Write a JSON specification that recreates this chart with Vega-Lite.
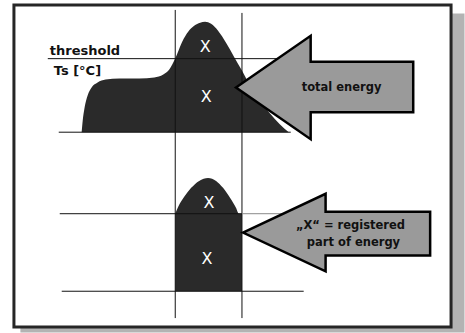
{
  "$schema": "https://vega.github.io/schema/vega-lite/v6.json",
  "width": 465,
  "height": 333,
  "autosize": {"type": "fit", "contains": "padding"},
  "padding": 0,
  "background": "white",
  "config": {"view": {"stroke": null}},
  "datasets": {
    "boxes": [
      {"part": "shadow", "x": 22, "x2": 465, "y": 15, "y2": 333},
      {"part": "frame", "x": 14, "x2": 453, "y": 5, "y2": 329}
    ],
    "shape1": [
      {"x": 82, "y": 133, "y2": 133},
      {"x": 83, "y": 122, "y2": 133},
      {"x": 85, "y": 108, "y2": 133},
      {"x": 88, "y": 96, "y2": 133},
      {"x": 92, "y": 88, "y2": 133},
      {"x": 98, "y": 83, "y2": 133},
      {"x": 106, "y": 80, "y2": 133},
      {"x": 120, "y": 79, "y2": 133},
      {"x": 140, "y": 79, "y2": 133},
      {"x": 155, "y": 78, "y2": 133},
      {"x": 164, "y": 75, "y2": 133},
      {"x": 170, "y": 70, "y2": 133},
      {"x": 174, "y": 63, "y2": 133},
      {"x": 178, "y": 54, "y2": 133},
      {"x": 183, "y": 42, "y2": 133},
      {"x": 189, "y": 32, "y2": 133},
      {"x": 195, "y": 26, "y2": 133},
      {"x": 201, "y": 23, "y2": 133},
      {"x": 206, "y": 22, "y2": 133},
      {"x": 212, "y": 24, "y2": 133},
      {"x": 219, "y": 31, "y2": 133},
      {"x": 227, "y": 43, "y2": 133},
      {"x": 235, "y": 57, "y2": 133},
      {"x": 243, "y": 71, "y2": 133},
      {"x": 251, "y": 86, "y2": 133},
      {"x": 261, "y": 101, "y2": 133},
      {"x": 271, "y": 114, "y2": 133},
      {"x": 281, "y": 125, "y2": 133},
      {"x": 290, "y": 133, "y2": 133}
    ],
    "shape2": [
      {"x": 176, "y": 215, "y2": 293},
      {"x": 179, "y": 208, "y2": 293},
      {"x": 185, "y": 198, "y2": 293},
      {"x": 192, "y": 189, "y2": 293},
      {"x": 200, "y": 182, "y2": 293},
      {"x": 209, "y": 179, "y2": 293},
      {"x": 217, "y": 182, "y2": 293},
      {"x": 224, "y": 189, "y2": 293},
      {"x": 231, "y": 199, "y2": 293},
      {"x": 237, "y": 209, "y2": 293},
      {"x": 240, "y": 215, "y2": 293},
      {"x": 243, "y": 215, "y2": 293}
    ],
    "arrow1": [
      {"x": 237, "y": 88, "y2": 88},
      {"x": 312, "y": 36, "y2": 140},
      {"x": 312.01, "y": 62, "y2": 113},
      {"x": 415, "y": 62, "y2": 113}
    ],
    "arrow2": [
      {"x": 244, "y": 234, "y2": 234},
      {"x": 327, "y": 195, "y2": 273},
      {"x": 327.01, "y": 213, "y2": 257},
      {"x": 432, "y": 213, "y2": 257}
    ],
    "rules": [
      {"c": "k", "x": 176, "x2": 176, "y": 10, "y2": 320},
      {"c": "k", "x": 243, "x2": 243, "y": 13, "y2": 320},
      {"c": "k", "x": 48, "x2": 292, "y": 59, "y2": 59},
      {"c": "k", "x": 59, "x2": 292, "y": 133, "y2": 133},
      {"c": "k", "x": 60, "x2": 243, "y": 215, "y2": 215},
      {"c": "g", "x": 243, "x2": 292, "y": 215, "y2": 215},
      {"c": "k", "x": 62, "x2": 305, "y": 293, "y2": 293}
    ],
    "darktext": [
      {"t": "threshold", "x": 50, "y": 55},
      {"t": "Ts [°C]", "x": 54, "y": 75}
    ],
    "centertext": [
      {"t": "total energy", "x": 343, "y": 92},
      {"t": "„X“ = registered", "x": 352, "y": 230},
      {"t": "part of energy", "x": 355, "y": 247}
    ],
    "xs": [
      {"t": "X", "x": 206, "y": 52},
      {"t": "X", "x": 207, "y": 103},
      {"t": "X", "x": 210, "y": 209},
      {"t": "X", "x": 208, "y": 266}
    ]
  },
  "layer": [
    {
      "data": {"name": "boxes"},
      "mark": {"type": "rect", "strokeWidth": 3},
      "encoding": {
        "x": {"field": "x", "type": "quantitative", "scale": {"domain": [0, 465], "nice": false, "zero": false}, "axis": null},
        "x2": {"field": "x2"},
        "y": {"field": "y", "type": "quantitative", "scale": {"domain": [0, 333], "nice": false, "zero": false, "reverse": true}, "axis": null},
        "y2": {"field": "y2"},
        "fill": {"field": "part", "type": "nominal", "scale": {"domain": ["shadow", "frame"], "range": ["#b3b3b3", "#ffffff"]}, "legend": null},
        "stroke": {"field": "part", "type": "nominal", "scale": {"domain": ["shadow", "frame"], "range": ["#b3b3b3", "#262626"]}, "legend": null},
        "order": {"field": "part", "sort": "descending"}
      }
    },
    {
      "data": {"name": "shape1"},
      "mark": {"type": "area", "color": "#2a2a2a", "interpolate": "monotone", "opacity": 1},
      "encoding": {
        "x": {"field": "x", "type": "quantitative"},
        "y": {"field": "y", "type": "quantitative", "stack": null},
        "y2": {"field": "y2"}
      }
    },
    {
      "data": {"name": "shape2"},
      "mark": {"type": "area", "color": "#2a2a2a", "interpolate": "monotone", "opacity": 1},
      "encoding": {
        "x": {"field": "x", "type": "quantitative"},
        "y": {"field": "y", "type": "quantitative", "stack": null},
        "y2": {"field": "y2"}
      }
    },
    {
      "data": {"name": "rules"},
      "mark": {"type": "rule", "strokeWidth": 1},
      "encoding": {
        "x": {"field": "x", "type": "quantitative"},
        "x2": {"field": "x2"},
        "y": {"field": "y", "type": "quantitative"},
        "y2": {"field": "y2"},
        "color": {"field": "c", "type": "nominal", "scale": {"domain": ["k", "g"], "range": ["#111111", "#8a8a8a"]}, "legend": null}
      }
    },
    {
      "data": {"name": "arrow1"},
      "mark": {"type": "area", "fill": "#9a9a9a", "stroke": "#000000", "strokeWidth": 2.5, "strokeJoin": "miter", "opacity": 1, "fillOpacity": 1},
      "encoding": {
        "x": {"field": "x", "type": "quantitative"},
        "y": {"field": "y", "type": "quantitative", "stack": null},
        "y2": {"field": "y2"}
      }
    },
    {
      "data": {"name": "arrow2"},
      "mark": {"type": "area", "fill": "#9a9a9a", "stroke": "#000000", "strokeWidth": 2.5, "strokeJoin": "miter", "opacity": 1, "fillOpacity": 1},
      "encoding": {
        "x": {"field": "x", "type": "quantitative"},
        "y": {"field": "y", "type": "quantitative", "stack": null},
        "y2": {"field": "y2"}
      }
    },
    {
      "data": {"name": "darktext"},
      "mark": {"type": "text", "align": "left", "baseline": "alphabetic", "font": "DejaVu Sans", "fontWeight": "bold", "fontSize": 13, "color": "#111111"},
      "encoding": {
        "x": {"field": "x", "type": "quantitative"},
        "y": {"field": "y", "type": "quantitative"},
        "text": {"field": "t"}
      }
    },
    {
      "data": {"name": "centertext"},
      "mark": {"type": "text", "align": "center", "baseline": "alphabetic", "font": "DejaVu Sans", "fontWeight": "bold", "fontSize": 11.5, "color": "#111111"},
      "encoding": {
        "x": {"field": "x", "type": "quantitative"},
        "y": {"field": "y", "type": "quantitative"},
        "text": {"field": "t"}
      }
    },
    {
      "data": {"name": "xs"},
      "mark": {"type": "text", "align": "center", "baseline": "alphabetic", "font": "DejaVu Sans", "fontSize": 16, "color": "#ffffff"},
      "encoding": {
        "x": {"field": "x", "type": "quantitative"},
        "y": {"field": "y", "type": "quantitative"},
        "text": {"field": "t"}
      }
    }
  ]
}
